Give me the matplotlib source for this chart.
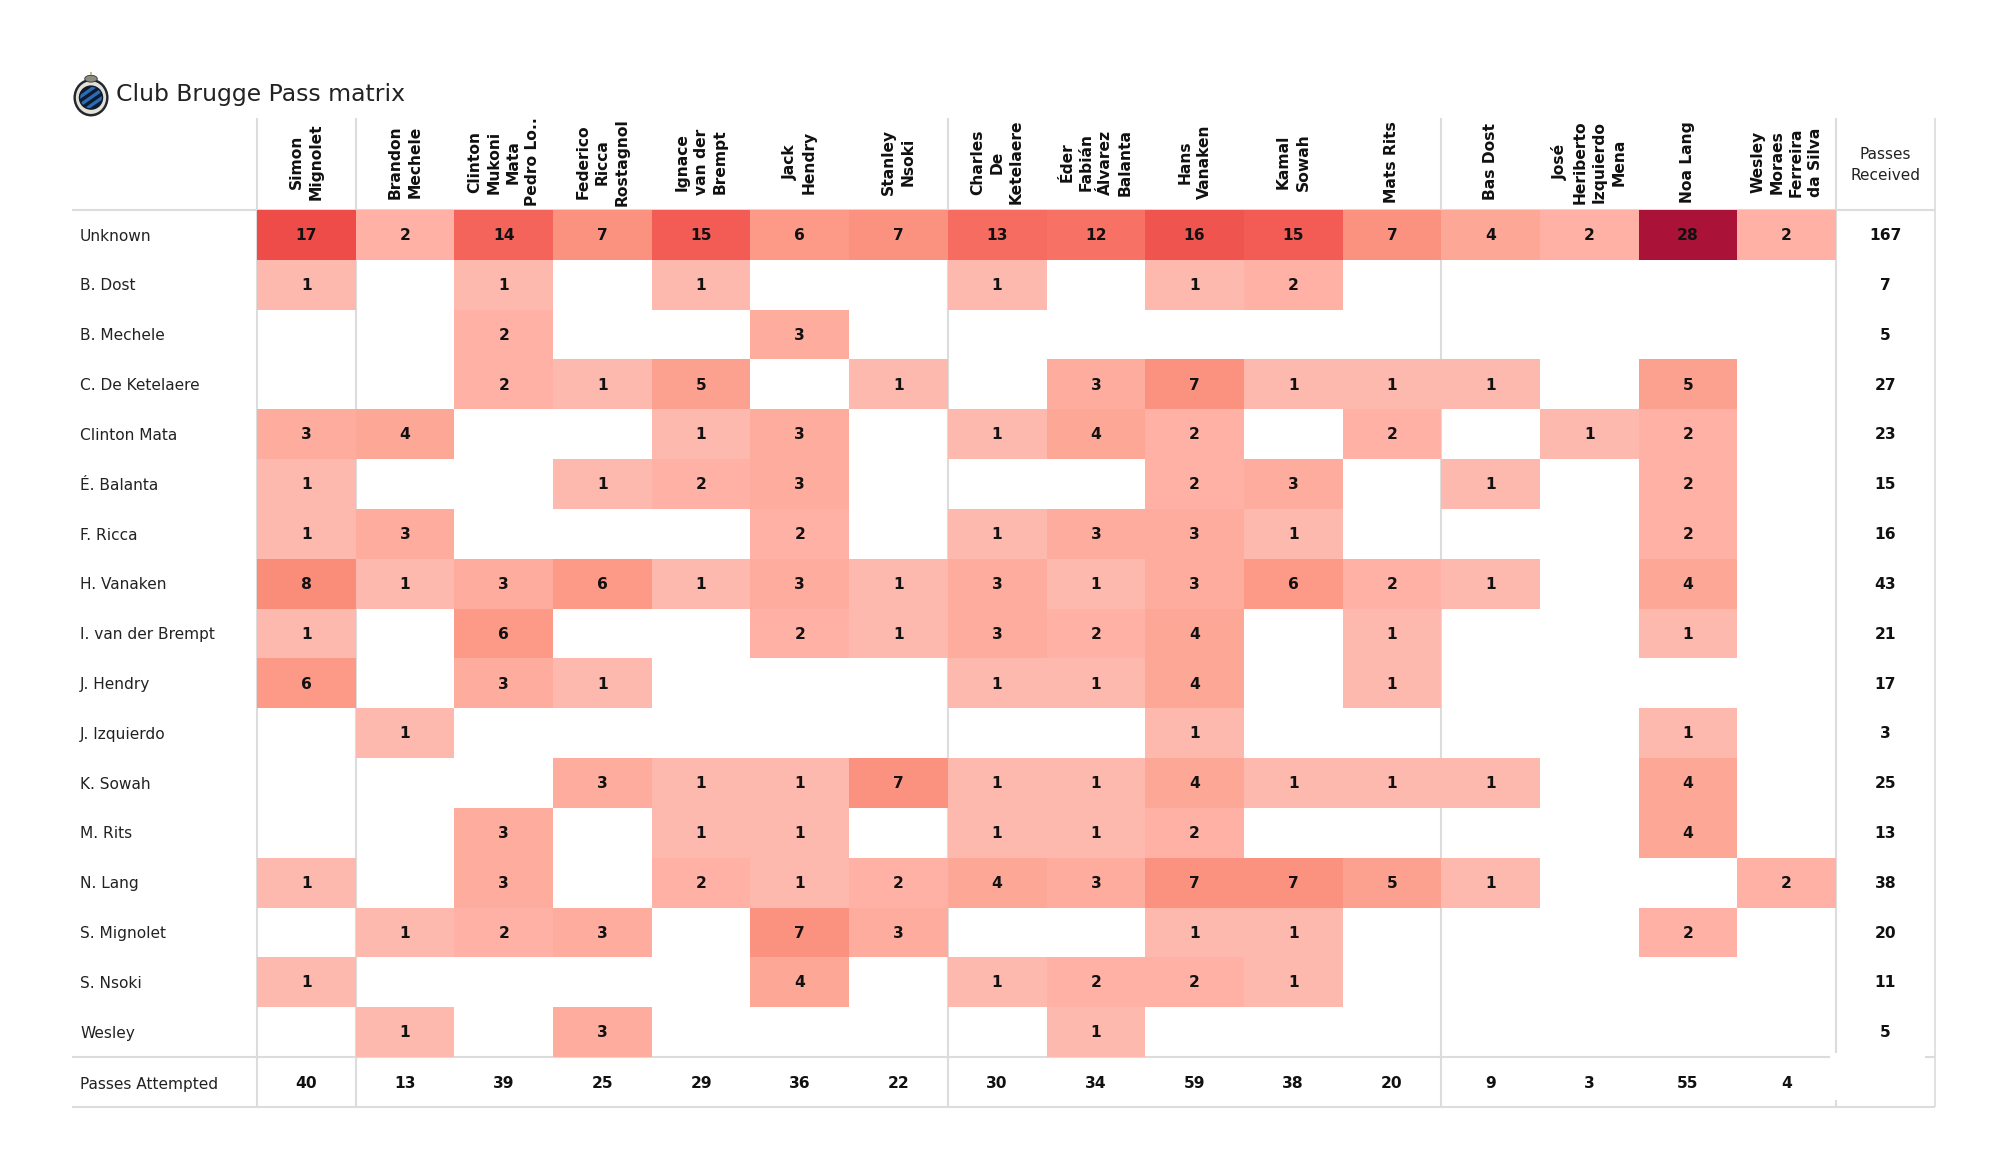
import numpy as np
import matplotlib
matplotlib.use("Agg")
import matplotlib.pyplot as plt
from matplotlib.colors import LinearSegmentedColormap
from matplotlib.patches import Ellipse, Circle, Polygon, Rectangle

title = "Club Brugge Pass matrix"
col_labels = ["Simon\nMignolet", "Brandon\nMechele", "Clinton\nMukoni\nMata\nPedro Lo..", "Federico\nRicca\nRostagnol",
              "Ignace\nvan der\nBrempt", "Jack\nHendry", "Stanley\nNsoki", "Charles\nDe\nKetelaere",
              "Éder\nFabián\nÁlvarez\nBalanta", "Hans\nVanaken", "Kamal\nSowah", "Mats Rits", "Bas Dost",
              "José\nHeriberto\nIzquierdo\nMena", "Noa Lang", "Wesley\nMoraes\nFerreira\nda Silva"]
row_labels = ["Unknown", "B. Dost", "B. Mechele", "C. De Ketelaere", "Clinton Mata", "É. Balanta", "F. Ricca",
              "H. Vanaken", "I. van der Brempt", "J. Hendry", "J. Izquierdo", "K. Sowah", "M. Rits", "N. Lang",
              "S. Mignolet", "S. Nsoki", "Wesley"]
matrix = [
    [17, 2, 14, 7, 15, 6, 7, 13, 12, 16, 15, 7, 4, 2, 28, 2],
    [1, 0, 1, 0, 1, 0, 0, 1, 0, 1, 2, 0, 0, 0, 0, 0],
    [0, 0, 2, 0, 0, 3, 0, 0, 0, 0, 0, 0, 0, 0, 0, 0],
    [0, 0, 2, 1, 5, 0, 1, 0, 3, 7, 1, 1, 1, 0, 5, 0],
    [3, 4, 0, 0, 1, 3, 0, 1, 4, 2, 0, 2, 0, 1, 2, 0],
    [1, 0, 0, 1, 2, 3, 0, 0, 0, 2, 3, 0, 1, 0, 2, 0],
    [1, 3, 0, 0, 0, 2, 0, 1, 3, 3, 1, 0, 0, 0, 2, 0],
    [8, 1, 3, 6, 1, 3, 1, 3, 1, 3, 6, 2, 1, 0, 4, 0],
    [1, 0, 6, 0, 0, 2, 1, 3, 2, 4, 0, 1, 0, 0, 1, 0],
    [6, 0, 3, 1, 0, 0, 0, 1, 1, 4, 0, 1, 0, 0, 0, 0],
    [0, 1, 0, 0, 0, 0, 0, 0, 0, 1, 0, 0, 0, 0, 1, 0],
    [0, 0, 0, 3, 1, 1, 7, 1, 1, 4, 1, 1, 1, 0, 4, 0],
    [0, 0, 3, 0, 1, 1, 0, 1, 1, 2, 0, 0, 0, 0, 4, 0],
    [1, 0, 3, 0, 2, 1, 2, 4, 3, 7, 7, 5, 1, 0, 0, 2],
    [0, 1, 2, 3, 0, 7, 3, 0, 0, 1, 1, 0, 0, 0, 2, 0],
    [1, 0, 0, 0, 0, 4, 0, 1, 2, 2, 1, 0, 0, 0, 0, 0],
    [0, 1, 0, 3, 0, 0, 0, 0, 1, 0, 0, 0, 0, 0, 0, 0],
]
passes_received = [167, 7, 5, 27, 23, 15, 16, 43, 21, 17, 3, 25, 13, 38, 20, 11, 5]
passes_attempted = [40, 13, 39, 25, 29, 36, 22, 30, 34, 59, 38, 20, 9, 3, 55, 4]
cmap_values = [1, 2, 4, 7, 13, 17, 22, 28]
cmap_colors = ["#feb9ae", "#feb1a4", "#fda797", "#fb927f", "#f66c60", "#ee4c49", "#d62f42", "#ab1237"]

LINE = "#dcdcdc"
TXT = "#111111"
W, H = 2000, 1175
L, R, T, B = 257, 1836, 210, 1057

fig = plt.figure(figsize=(W / 100, H / 100), dpi=100, facecolor="white")
ax = fig.add_axes([L / W, 1 - B / H, (R - L) / W, (B - T) / H])
data = np.ma.masked_equal(np.array(matrix, float), 0)
nr, nc = data.shape
vmax = cmap_values[-1]
cmap = LinearSegmentedColormap.from_list("passes", [((v - 1) / (vmax - 1), c) for v, c in zip(cmap_values, cmap_colors)])
ax.pcolormesh(np.arange(nc + 1), np.arange(nr + 1), data, cmap=cmap, vmin=1, vmax=vmax, zorder=3)
ax.set_xlim(0, nc)
ax.set_ylim(nr, 0)
ax.axis("off")

cw = (R - L) / nc
rh = (B - T) / nr
px = lambda x: (x - L) / cw
py = lambda y: (y - T) / rh
dy = 1.2 / rh

def hline(y, x0, x1, lw=2):
    ax.plot([px(x0), px(x1)], [py(y), py(y)], color=LINE, lw=lw, clip_on=False, zorder=2, solid_capstyle="butt")
def vline(x, y0, y1, lw=2):
    ax.plot([px(x), px(x)], [py(y0), py(y1)], color=LINE, lw=lw, clip_on=False, zorder=2, solid_capstyle="butt")

for x in (L, 356, 948, 1441):
    vline(x, 118, 1107, 1.5)
vline(1836, 118, 1053, 1.5)
vline(1836, 1100, 1107, 1.5)
vline(1935, 118, 1107, 1.2)
hline(210, 72, 1935, 1.5)
hline(1057, 72, 1830, 1.5)
hline(1057, 1925, 1935, 1.5)
hline(1107, 72, 1935, 1.5)

NUM = 11.2
for i in range(nr):
    ax.text(px(80), i + 0.5 + dy, row_labels[i], ha="left", va="center", fontsize=11.1, color="#222222", clip_on=False)
    ax.text(nc + 0.5, i + 0.5 + dy * 0.6, str(passes_received[i]), ha="center", va="center", fontsize=NUM, fontweight="bold", color=TXT, clip_on=False)
    for j in range(nc):
        if matrix[i][j]:
            ax.text(j + 0.5, i + 0.5 + dy * 0.6, str(matrix[i][j]), ha="center", va="center", fontsize=NUM, fontweight="bold", color=TXT, zorder=4)
for j in range(nc):
    ax.text(j + 0.5, nr + 0.5 + dy, str(passes_attempted[j]), ha="center", va="center", fontsize=NUM, fontweight="bold", color=TXT, clip_on=False)
    ax.text(j + 0.5, py(162), col_labels[j], rotation=90, ha="center", va="center", multialignment="center",
            fontsize=11.2, fontweight="bold", color=TXT, linespacing=1.36, clip_on=False)
ax.text(px(80), nr + 0.5 + 2 * dy, "Passes Attempted", ha="left", va="center", fontsize=11.1, color="#222222", clip_on=False)
ax.text(nc + 0.5, py(165), "Passes\nReceived", ha="center", va="center", multialignment="center", fontsize=11, color="#222222", linespacing=1.45, clip_on=False)
ax.text(px(116), py(95), title, ha="left", va="center", fontsize=16.9, color="#222222", clip_on=False)

# crest drawn from simple shapes
logo = fig.add_axes([73 / W, 1 - 117 / H, 36 / W, 46 / H])
logo.set_xlim(-1, 1); logo.set_ylim(-1.28, 1.28); logo.axis("off")
logo.add_patch(Ellipse((0, -0.2), 1.95, 2.1, fc="#23272e", ec="none"))
logo.add_patch(Ellipse((0, -0.2), 1.68, 1.82, fc="#e4e2d6", ec="none"))
logo.add_patch(Circle((0, -0.2), 0.68, fc="#0f1a2e", ec="none"))
clip = Circle((0, -0.2), 0.6, transform=logo.transData)
for d in (-0.55, -0.1, 0.35):
    s = logo.add_patch(Polygon([(-1, d - 0.9), (-1, d - 0.68), (1, d + 0.72), (1, d + 0.5)], fc="#2a6db5", ec="none"))
    s.set_clip_path(clip)
logo.add_patch(Ellipse((0, 0.85), 0.7, 0.38, fc="#8c8c80", ec="#333333", lw=0.6))
logo.add_patch(Rectangle((-0.03, 1.05), 0.06, 0.18, fc="#c9bd8a", ec="none"))

fig.savefig("out.png", dpi=100, facecolor="white")
